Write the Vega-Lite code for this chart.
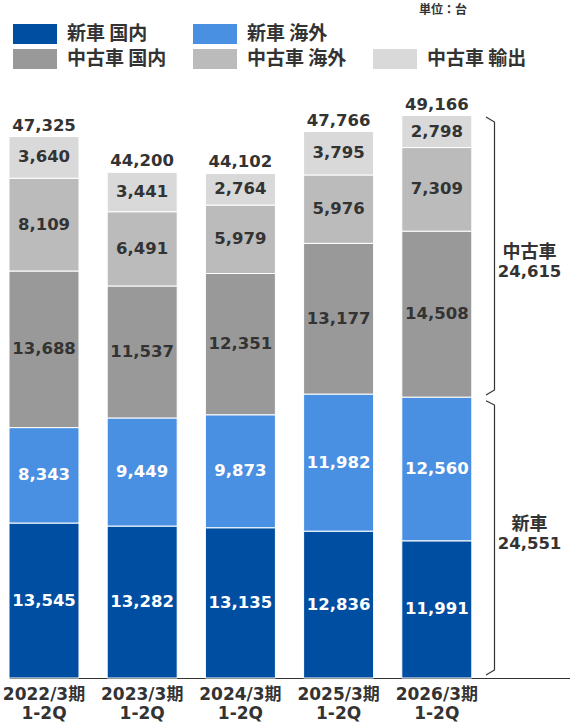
{
  "$schema": "https://vega.github.io/schema/vega-lite/v6.json",
  "width": 561,
  "height": 572,
  "autosize": {"type": "none"},
  "padding": {"left": 9, "top": 106, "right": 0, "bottom": 44},
  "title": {
    "text": "単位：台",
    "anchor": "end",
    "frame": "group",
    "font": "Noto Sans CJK JP",
    "fontSize": 12,
    "fontWeight": "bold",
    "color": "#333333",
    "dx": -103,
    "offset": 6
  },
  "config": {
    "view": {"stroke": null},
    "font": "DejaVu Sans"
  },
  "resolve": {"scale": {"x": "independent"}},
  "layer": [
    {
      "layer": [
        {
          "data": {
            "name": "units",
            "values": [
              {"年度": "2022/3期 1-2Q", "区分": "新車 国内", "順": 1, "台数": 13545},
              {"年度": "2022/3期 1-2Q", "区分": "新車 海外", "順": 2, "台数": 8343},
              {"年度": "2022/3期 1-2Q", "区分": "中古車 国内", "順": 3, "台数": 13688},
              {"年度": "2022/3期 1-2Q", "区分": "中古車 海外", "順": 4, "台数": 8109},
              {"年度": "2022/3期 1-2Q", "区分": "中古車 輸出", "順": 5, "台数": 3640},
              {"年度": "2023/3期 1-2Q", "区分": "新車 国内", "順": 1, "台数": 13282},
              {"年度": "2023/3期 1-2Q", "区分": "新車 海外", "順": 2, "台数": 9449},
              {"年度": "2023/3期 1-2Q", "区分": "中古車 国内", "順": 3, "台数": 11537},
              {"年度": "2023/3期 1-2Q", "区分": "中古車 海外", "順": 4, "台数": 6491},
              {"年度": "2023/3期 1-2Q", "区分": "中古車 輸出", "順": 5, "台数": 3441},
              {"年度": "2024/3期 1-2Q", "区分": "新車 国内", "順": 1, "台数": 13135},
              {"年度": "2024/3期 1-2Q", "区分": "新車 海外", "順": 2, "台数": 9873},
              {"年度": "2024/3期 1-2Q", "区分": "中古車 国内", "順": 3, "台数": 12351},
              {"年度": "2024/3期 1-2Q", "区分": "中古車 海外", "順": 4, "台数": 5979},
              {"年度": "2024/3期 1-2Q", "区分": "中古車 輸出", "順": 5, "台数": 2764},
              {"年度": "2025/3期 1-2Q", "区分": "新車 国内", "順": 1, "台数": 12836},
              {"年度": "2025/3期 1-2Q", "区分": "新車 海外", "順": 2, "台数": 11982},
              {"年度": "2025/3期 1-2Q", "区分": "中古車 国内", "順": 3, "台数": 13177},
              {"年度": "2025/3期 1-2Q", "区分": "中古車 海外", "順": 4, "台数": 5976},
              {"年度": "2025/3期 1-2Q", "区分": "中古車 輸出", "順": 5, "台数": 3795},
              {"年度": "2026/3期 1-2Q", "区分": "新車 国内", "順": 1, "台数": 11991},
              {"年度": "2026/3期 1-2Q", "区分": "新車 海外", "順": 2, "台数": 12560},
              {"年度": "2026/3期 1-2Q", "区分": "中古車 国内", "順": 3, "台数": 14508},
              {"年度": "2026/3期 1-2Q", "区分": "中古車 海外", "順": 4, "台数": 7309},
              {"年度": "2026/3期 1-2Q", "区分": "中古車 輸出", "順": 5, "台数": 2798}
            ]
          },
          "layer": [
            {
              "mark": {"type": "bar", "stroke": "white", "strokeWidth": 1},
              "encoding": {
                "x": {
                  "field": "年度",
                  "type": "nominal",
                  "title": null,
                  "scale": {
                    "domain": ["2022/3期 1-2Q", "2023/3期 1-2Q", "2024/3期 1-2Q", "2025/3期 1-2Q", "2026/3期 1-2Q", "余白"],
                    "paddingInner": 0.2872,
                    "paddingOuter": 0
                  },
                  "axis": {
                    "labelAngle": 0,
                    "ticks": false,
                    "domainColor": "#333333",
                    "domainWidth": 1,
                    "labelFont": "DejaVu Sans, Noto Sans CJK JP",
                    "labelFontSize": 17,
                    "labelFontWeight": "bold",
                    "labelColor": "#333333",
                    "labelPadding": 8,
                    "labelLineHeight": 19,
                    "labelExpr": "datum.value == '余白' ? '' : split(datum.value, ' ')"
                  }
                },
                "y": {
                  "field": "台数",
                  "type": "quantitative",
                  "stack": "zero",
                  "scale": {"domain": [0, 50000], "nice": false},
                  "axis": null
                },
                "color": {
                  "field": "区分",
                  "type": "nominal",
                  "scale": {
                    "domain": ["新車 国内", "新車 海外", "_", "中古車 国内", "中古車 海外", "中古車 輸出"],
                    "range": ["#004EA2", "#4A90E2", "#FFFFFF", "#999999", "#BBBBBB", "#D9D9D9"]
                  },
                  "legend": {
                    "orient": "none",
                    "legendX": 4,
                    "legendY": -83,
                    "title": null,
                    "columns": 3,
                    "direction": "horizontal",
                    "padding": 0,
                    "symbolType": "M-2,-0.909H2V0.909H-2Z",
                    "symbolSize": 484,
                    "symbolOffset": 11,
                    "symbolStrokeWidth": 0,
                    "symbolOpacity": 1,
                    "labelFont": "Noto Sans CJK JP",
                    "labelFontSize": 19,
                    "labelFontWeight": "bold",
                    "labelColor": "#333333",
                    "labelOffset": 21,
                    "labelLimit": 0,
                    "columnPadding": 26,
                    "rowPadding": 4,
                    "labelExpr": "datum.label == '_' ? '' : datum.label"
                  }
                },
                "order": {"field": "順", "type": "quantitative"}
              }
            },
            {
              "mark": {"type": "text", "fontSize": 16.5, "fontWeight": "bold", "baseline": "middle"},
              "encoding": {
                "x": {"field": "年度", "type": "nominal"},
                "y": {"field": "台数", "type": "quantitative", "stack": "zero", "bandPosition": 0.5},
                "detail": {"field": "区分"},
                "order": {"field": "順", "type": "quantitative"},
                "text": {"field": "台数", "type": "quantitative", "format": ","},
                "color": {
                  "condition": {"test": "indexof(datum['区分'], '新車') === 0", "value": "#FFFFFF"},
                  "value": "#333333"
                }
              }
            },
            {
              "mark": {"type": "text", "fontSize": 16.5, "fontWeight": "bold", "color": "#333333", "baseline": "alphabetic", "dy": -6},
              "encoding": {
                "x": {"field": "年度", "type": "nominal"},
                "y": {"aggregate": "sum", "field": "台数", "type": "quantitative"},
                "text": {"aggregate": "sum", "field": "台数", "type": "quantitative", "format": ","}
              }
            }
          ]
        },
        {
          "data": {
            "name": "subtotals",
            "values": [
              {"区分": "中古車", "合計": 24615, "台数": 36320},
              {"区分": "新車", "合計": 24551, "台数": 12590}
            ]
          },
          "layer": [
            {
              "mark": {"type": "text", "font": "Noto Sans CJK JP", "fontSize": 18, "fontWeight": "bold", "color": "#333333", "baseline": "middle", "dx": -5.5, "dy": -9},
              "encoding": {
                "x": {"datum": "余白", "type": "nominal"},
                "y": {"field": "台数", "type": "quantitative"},
                "text": {"field": "区分", "type": "nominal"}
              }
            },
            {
              "mark": {"type": "text", "fontSize": 16.5, "fontWeight": "bold", "color": "#333333", "baseline": "middle", "dx": -5.5, "dy": 10},
              "encoding": {
                "x": {"datum": "余白", "type": "nominal"},
                "y": {"field": "台数", "type": "quantitative"},
                "text": {"field": "合計", "type": "quantitative", "format": ","}
              }
            }
          ]
        }
      ]
    },
    {
      "data": {
        "name": "braces",
        "values": [
          {"区分": "中古車", "順": 1, "端": "先", "台数": 49040},
          {"区分": "中古車", "順": 2, "端": "軸", "台数": 48600},
          {"区分": "中古車", "順": 3, "端": "軸", "台数": 25175},
          {"区分": "中古車", "順": 4, "端": "先", "台数": 24740},
          {"区分": "新車", "順": 1, "端": "先", "台数": 24240},
          {"区分": "新車", "順": 2, "端": "軸", "台数": 23860},
          {"区分": "新車", "順": 3, "端": "軸", "台数": 700},
          {"区分": "新車", "順": 4, "端": "先", "台数": 260}
        ]
      },
      "mark": {"type": "line", "color": "#333333", "strokeWidth": 1.2},
      "encoding": {
        "x": {
          "field": "端",
          "type": "nominal",
          "scale": {"type": "point", "domain": ["先", "軸"], "range": [477, 485.5], "padding": 0},
          "axis": null
        },
        "y": {"field": "台数", "type": "quantitative"},
        "detail": {"field": "区分"},
        "order": {"field": "順", "type": "quantitative"}
      }
    }
  ]
}
